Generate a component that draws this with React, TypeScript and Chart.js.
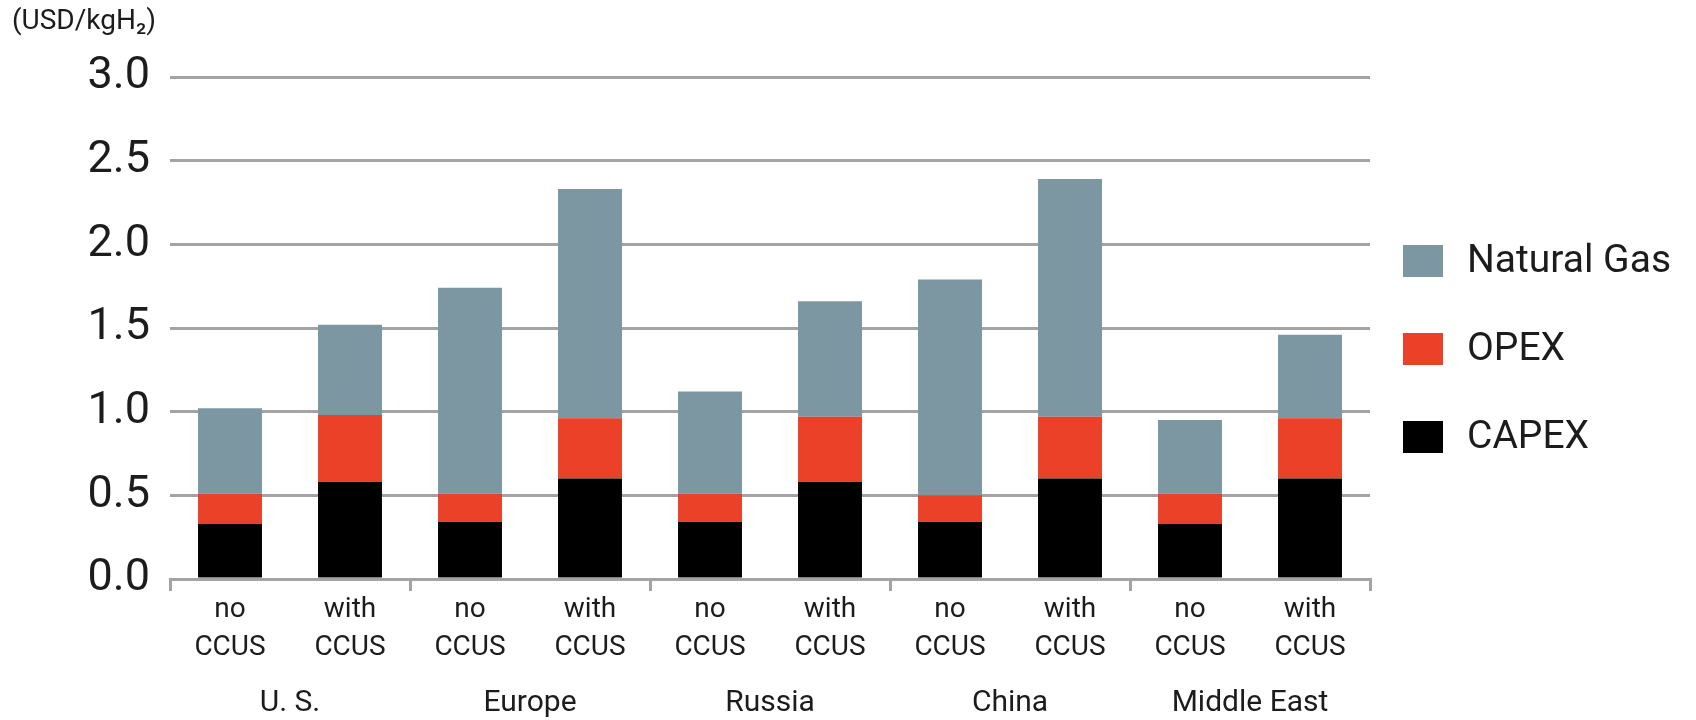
import React, { useEffect, useRef } from 'react';
import { Chart, registerables } from 'chart.js';

Chart.register(...registerables);

// ---- data ----
const groups = ['U. S.', 'Europe', 'Russia', 'China', 'Middle East'];
const scenarios = [
  ['no', 'CCUS'], ['with', 'CCUS'],
  ['no', 'CCUS'], ['with', 'CCUS'],
  ['no', 'CCUS'], ['with', 'CCUS'],
  ['no', 'CCUS'], ['with', 'CCUS'],
  ['no', 'CCUS'], ['with', 'CCUS'],
];
const capex = [0.33, 0.58, 0.34, 0.60, 0.34, 0.58, 0.34, 0.60, 0.33, 0.60];
const opex = [0.18, 0.40, 0.17, 0.36, 0.17, 0.39, 0.16, 0.37, 0.18, 0.36];
const naturalGas = [0.51, 0.54, 1.23, 1.37, 0.61, 0.69, 1.29, 1.42, 0.44, 0.50];
const seriesNames = ['CAPEX', 'OPEX', 'Natural Gas'];
const seriesColors = ['#000000', '#ea4128', '#7c97a1'];
const unitLabel = '(USD/kgH\u2082)';
const yMin = 0;
const yMax = 3;
const yStep = 0.5;

const FONT = "Roboto, 'DejaVu Sans', sans-serif";
const TEXT = '#1c1c1c';
const GRID = '#a3a3a3';

const sideLegend = {
  id: 'sideLegend',
  afterDraw(chart: any) {
    const { ctx, chartArea } = chart;
    const items = chart.data.datasets.slice().reverse();
    const x0 = chartArea.right + 33;
    const boxW = 40;
    const boxH = 32;
    const step = 88;
    const cy0 = chartArea.top + 184;
    ctx.save();
    ctx.font = `39px ${FONT}`;
    ctx.textBaseline = 'middle';
    ctx.textAlign = 'left';
    items.forEach((d: any, i: number) => {
      const cy = cy0 + i * step;
      ctx.fillStyle = d.backgroundColor;
      ctx.fillRect(x0, cy - boxH / 2, boxW, boxH);
      ctx.fillStyle = TEXT;
      ctx.fillText(d.label, x0 + boxW + 24, cy + 1);
    });
    ctx.restore();
  },
};

export default function App() {
  const ref = useRef<HTMLCanvasElement>(null);

  useEffect(() => {
    if (!ref.current) return;
    const values = [capex, opex, naturalGas];
    const chart = new Chart(ref.current, {
      type: 'bar',
      data: {
        labels: scenarios,
        datasets: seriesNames.map((name, i) => ({
          label: name,
          data: values[i],
          backgroundColor: seriesColors[i],
          borderWidth: 0,
          barPercentage: 0.533,
          categoryPercentage: 1,
          xAxisID: 'x',
          yAxisID: 'y',
        })),
      },
      options: {
        responsive: false,
        animation: false,
        devicePixelRatio: 1,
        layout: { padding: { top: 5, left: 12, right: 326, bottom: 0 } },
        plugins: {
          legend: { display: false },
          tooltip: { enabled: false },
          title: {
            display: true,
            text: unitLabel,
            align: 'start',
            color: TEXT,
            font: { family: FONT, size: 28, weight: 'normal', lineHeight: 1.2 },
            padding: { top: 0, bottom: 38.4 },
          },
        },
        scales: {
          x: {
            type: 'category',
            stacked: true,
            offset: true,
            weight: 0,
            grid: {
              offset: true,
              drawOnChartArea: false,
              drawTicks: true,
              tickLength: 12,
              lineWidth: 3,
              color: (c: any) =>
                c.index === undefined || c.index % 2 === 0 ? GRID : 'rgba(0,0,0,0)',
            },
            border: { display: true, color: GRID, width: 3, z: 1 },
            ticks: {
              color: TEXT,
              padding: 0,
              maxRotation: 0,
              autoSkip: false,
              font: { family: FONT, size: 28, lineHeight: 1.35 },
            },
            afterFit: (s: any) => {
              s.height = 85;
            },
          },
          x2: {
            type: 'category',
            labels: groups,
            position: 'bottom',
            offset: true,
            weight: 1,
            grid: { display: false, drawTicks: false },
            border: { display: false },
            ticks: {
              color: TEXT,
              padding: 21,
              maxRotation: 0,
              autoSkip: false,
              font: { family: FONT, size: 30, lineHeight: 1.2 },
            },
            afterFit: (s: any) => {
              s.height = 56;
            },
          },
          y: {
            stacked: true,
            min: yMin,
            max: yMax,
            grid: { color: GRID, lineWidth: 3, drawTicks: false },
            border: { display: false },
            ticks: {
              stepSize: yStep,
              color: TEXT,
              padding: 20,
              font: { family: FONT, size: 45 },
              callback: (v: any) => Number(v).toFixed(1),
            },
            afterFit: (s: any) => {
              s.width = 158;
            },
          },
        },
      },
      plugins: [sideLegend],
    } as any);
    return () => chart.destroy();
  }, []);

  return (
    <div style={{ position: 'fixed', left: 0, top: 0, width: 1696, height: 720, background: '#fff' }}>
      <canvas ref={ref} width={1696} height={720} style={{ width: 1696, height: 720, display: 'block' }} />
    </div>
  );
}
